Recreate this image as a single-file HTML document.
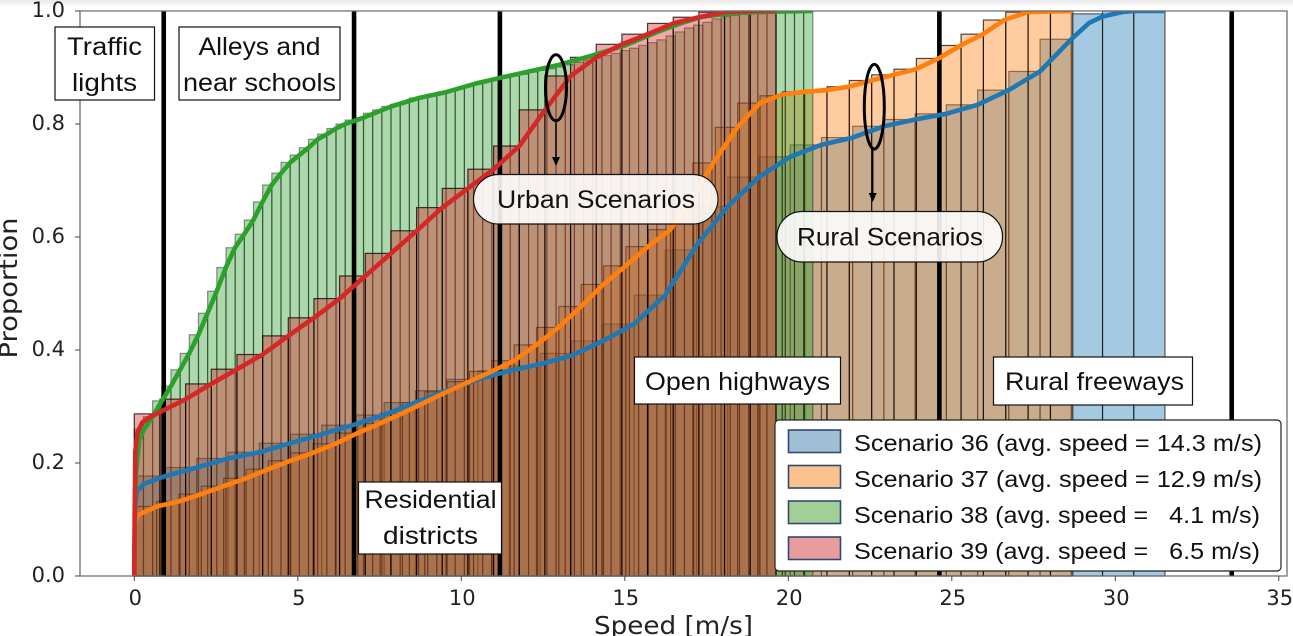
<!DOCTYPE html>
<html lang="en">
<head>
<meta charset="utf-8">
<title>Speed distribution by scenario</title>
<style>
html,body{margin:0;padding:0;background:#fff;width:1293px;height:636px;overflow:hidden}
svg{display:block}
.lab{font-family:"Liberation Sans",sans-serif;font-size:25px;fill:#111}
.leg{font-family:"Liberation Sans",sans-serif;font-size:23px;fill:#111;white-space:pre}
.tick{font-family:"DejaVu Sans",sans-serif;font-size:21px;fill:#222}
.axt{font-family:"DejaVu Sans",sans-serif;font-size:25px;fill:#222}
</style>
</head>
<body>
<svg id="chart" xmlns="http://www.w3.org/2000/svg" width="1293" height="636" viewBox="0 0 1293 636">
  <defs>
    <linearGradient id="topfade" x1="0" y1="0" x2="0" y2="1"><stop offset="0" stop-color="#e8e8e8"/><stop offset="1" stop-color="#ffffff"/></linearGradient>
    <clipPath id="plotclip"><rect x="80" y="11" width="1207" height="565"/></clipPath>
  </defs>
  <rect x="0" y="0" width="1293" height="7" fill="url(#topfade)"/>
  <g id="bars"></g>
  <g id="vlines"></g>
  <g id="curves" clip-path="url(#plotclip)"></g>
  <g id="axes"></g>

  <g>
    <rect x="55" y="27" width="99.5" height="73" fill="#fff" stroke="#111" stroke-width="1.2"/>
    <text class="lab" x="104.5" y="55" text-anchor="middle" textLength="75" lengthAdjust="spacingAndGlyphs">Traffic</text>
    <text class="lab" x="104.5" y="91" text-anchor="middle" textLength="65" lengthAdjust="spacingAndGlyphs">lights</text>
  </g>
  <g>
    <rect x="179" y="27" width="161" height="73" fill="#fff" stroke="#111" stroke-width="1.2"/>
    <text class="lab" x="259.5" y="55" text-anchor="middle" textLength="122" lengthAdjust="spacingAndGlyphs">Alleys and</text>
    <text class="lab" x="259.5" y="91" text-anchor="middle" textLength="153" lengthAdjust="spacingAndGlyphs">near schools</text>
  </g>
  <g>
    <rect x="358.5" y="482" width="143" height="72" fill="#fff" stroke="#111" stroke-width="1.2"/>
    <text class="lab" x="430.5" y="508" text-anchor="middle" textLength="132" lengthAdjust="spacingAndGlyphs">Residential</text>
    <text class="lab" x="430.5" y="544" text-anchor="middle" textLength="95" lengthAdjust="spacingAndGlyphs">districts</text>
  </g>
  <g>
    <rect x="634.5" y="357" width="206" height="47" fill="#fff" stroke="#111" stroke-width="1.2"/>
    <text class="lab" x="737.5" y="390" text-anchor="middle" textLength="185" lengthAdjust="spacingAndGlyphs">Open highways</text>
  </g>
  <g>
    <rect x="993.5" y="357" width="199" height="48" fill="#fff" stroke="#111" stroke-width="1.2"/>
    <text class="lab" x="1094.5" y="390" text-anchor="middle" textLength="179" lengthAdjust="spacingAndGlyphs">Rural freeways</text>
  </g>

  <g>
    <ellipse cx="556" cy="87.7" rx="10.5" ry="33" fill="none" stroke="#000" stroke-width="3"/>
    <line x1="556" y1="121" x2="556" y2="158" stroke="#000" stroke-width="1.5"/>
    <polygon points="552,157 560,157 556,166" fill="#000"/>
  </g>
  <g>
    <ellipse cx="874.3" cy="106.7" rx="10" ry="42.3" fill="none" stroke="#000" stroke-width="3"/>
    <line x1="872.7" y1="149" x2="872.7" y2="194" stroke="#000" stroke-width="1.5"/>
    <polygon points="868.7,193 876.7,193 872.7,202" fill="#000"/>
  </g>
  <g>
    <rect x="473.5" y="174.5" width="244.5" height="49.5" rx="25" ry="25" fill="#fff" fill-opacity="0.89" stroke="#111" stroke-width="1.2"/>
    <text class="lab" x="596" y="208" text-anchor="middle" textLength="198" lengthAdjust="spacingAndGlyphs">Urban Scenarios</text>
  </g>
  <g>
    <rect x="777" y="211.5" width="225.5" height="50.5" rx="25" ry="25" fill="#fff" fill-opacity="0.89" stroke="#111" stroke-width="1.2"/>
    <text class="lab" x="890" y="245.5" text-anchor="middle" textLength="186" lengthAdjust="spacingAndGlyphs">Rural Scenarios</text>
  </g>

  <g>
    <rect x="775" y="420" width="506" height="151" rx="4" ry="4" fill="#fff" stroke="#222" stroke-width="1.2"/>
    <g>
      <rect x="788.5" y="430" width="52" height="22.5" fill="#a0bfd4" stroke="#2f4a70" stroke-width="1.6"/>
      <text class="leg" x="854" y="451" textLength="408" lengthAdjust="spacingAndGlyphs" xml:space="preserve">Scenario 36 (avg. speed = 14.3 m/s)</text>
    </g>
    <g>
      <rect x="788.5" y="465.5" width="52" height="22.5" fill="#fbc28e" stroke="#2f4a70" stroke-width="1.6"/>
      <text class="leg" x="854" y="487" textLength="408" lengthAdjust="spacingAndGlyphs" xml:space="preserve">Scenario 37 (avg. speed = 12.9 m/s)</text>
    </g>
    <g>
      <rect x="788.5" y="501" width="52" height="22.5" fill="#a3ce98" stroke="#2f4a70" stroke-width="1.6"/>
      <text class="leg" x="854" y="523" textLength="406" lengthAdjust="spacingAndGlyphs" xml:space="preserve">Scenario 38 (avg. speed =   4.1 m/s)</text>
    </g>
    <g>
      <rect x="788.5" y="537" width="52" height="22.5" fill="#e89c9c" stroke="#2f4a70" stroke-width="1.6"/>
      <text class="leg" x="854" y="559" textLength="406" lengthAdjust="spacingAndGlyphs" xml:space="preserve">Scenario 39 (avg. speed =   6.5 m/s)</text>
    </g>
  </g>
</svg>
<script>
const xTicks = [0, 5, 10, 15, 20, 25, 30, 35];
const yTicks = [0.0, 0.2, 0.4, 0.6, 0.8, 1.0];
const yTickLabels = ['0.0', '0.2', '0.4', '0.6', '0.8', '1.0'];
const speedBoundaries = [0.9, 6.72, 11.18, 24.62, 33.56];

const maxSpeed36 = 31.52;
const maxSpeed37 = 28.7;
const maxSpeed38 = 20.75;
const maxSpeed39 = 19.62;

const bars36 = [.177,.192,.208,.219,.235,.251,.267,.285,.307,.328,.348,.363,.372,.394,.416,.446,.497,.577,.654,.706,.742,.763,.776,.796,.808,.818,.834,.860,.893,.950,.995,1,1];
const bars37 = [.123,.132,.145,.159,.173,.189,.204,.218,.234,.253,.270,.288,.307,.326,.344,.362,.381,.409,.440,.477,.516,.549,.583,.613,.665,.731,.794,.837,.850,.857,.860,.866,.877,.887,.897,.916,.939,.959,.984,.998,1,1];
const bars38 = [.260,.282,.310,.336,.365,.394,.427,.465,.504,.546,.581,.605,.630,.662,.692,.713,.732,.745,.758,.773,.782,.792,.800,.807,.811,.819,.825,.831,.835,.839,.846,.849,.853,.856,.859,.863,.867,.871,.875,.878,.882,.885,.888,.892,.895,.898,.901,.905,.909,.913,.917,.921,.925,.930,.934,.939,.944,.949,.956,.963,.970,.975,.980,.986,.990,.992,.994,.996,.997,.998,.999,.9995,1,1];
const bars39 = [.287,.313,.340,.366,.392,.425,.457,.491,.531,.571,.611,.652,.686,.720,.761,.825,.885,.918,.941,.959,.978,.989,.998,1,1];

const curve36Speed = [0,.02,.08,.3,.955,1.91,2.865,3.82,4.775,5.73,6.685,7.64,8.595,9.55,10.505,11.46,12.415,13.37,14.325,15.28,16.235,17.19,18.145,19.1,20.055,21.01,21.965,22.92,23.875,24.83,25.785,26.74,27.695,28.65,29.2,29.605,30.2,30.56,31.52];
const curve36Value = [0,.12,.15,.163,.177,.192,.208,.219,.235,.251,.267,.285,.307,.328,.348,.363,.375,.390,.416,.446,.497,.585,.654,.706,.742,.763,.776,.796,.808,.818,.834,.860,.893,.950,.979,.990,.998,1,1];
const curve37Speed = [0,.02,.08,.3,.683,1.366,2.049,2.732,3.415,4.098,4.781,5.464,6.147,6.83,7.513,8.196,8.879,9.562,10.245,10.928,11.611,12.294,12.977,13.66,14.343,15.026,15.709,16.392,17.075,17.758,18.441,19.13,19.8,20.49,21.17,21.85,22.54,23.22,23.9,24.59,25.27,25.95,26.6,27.32,28.7];
const curve37Value = [0,.09,.107,.113,.123,.132,.145,.159,.173,.189,.204,.218,.234,.253,.270,.288,.307,.326,.344,.362,.381,.409,.440,.477,.516,.549,.583,.613,.671,.736,.794,.837,.852,.857,.860,.866,.877,.887,.897,.916,.939,.959,.984,.998,1];
const curve38Speed = [0,.02,.05,.15,.28,.56,.84,1.12,1.4,1.68,1.96,2.24,2.52,2.8,3.08,3.36,3.64,3.92,4.2,4.49,4.77,5.05,5.33,5.61,5.89,6.17,6.45,7,7.85,8.7,9.5,10.4,11.2,12,13,14,15,16,16.8,17.4,18,18.6,19.6,20.75];
const curve38Value = [0,.1,.18,.24,.258,.282,.310,.336,.365,.394,.427,.465,.504,.546,.581,.605,.630,.662,.692,.713,.732,.745,.758,.773,.782,.792,.800,.811,.831,.846,.856,.871,.882,.892,.905,.921,.939,.963,.980,.990,.994,.997,.999,1];
const curve39Speed = [0,.01,.03,.1,.25,.5,.785,1.57,2.355,3.14,3.925,4.71,5.495,6.28,7.065,7.85,8.635,9.42,10.205,10.99,11.775,12.56,13.345,14.13,14.915,15.7,16.485,17.27,18.055,18.84,19.62];
const curve39Value = [0,.1,.22,.255,.272,.282,.290,.313,.340,.366,.392,.425,.457,.491,.531,.571,.611,.652,.686,.720,.761,.825,.885,.918,.941,.959,.978,.989,.998,1,1];

const NS = 'http://www.w3.org/2000/svg';
const xAxis = v => 134.3 + 32.7 * v;
const yAxis = v => 576 - 565 * v;

function drawBars(values, maxSpeed, colour, edgeOpacity) {
  const group = document.getElementById('bars');
  const width = maxSpeed / values.length;
  values.forEach((v, i) => {
    const bar = document.createElementNS(NS, 'rect');
    
    
    bar.setAttribute('x', xAxis(i * width));
    bar.setAttribute('y', yAxis(v));
    bar.setAttribute('width', xAxis((i + 1) * width) - xAxis(i * width));
    bar.setAttribute('height', yAxis(0) - yAxis(v));
    bar.setAttribute('fill', colour);
    bar.setAttribute('fill-opacity', '0.4');
    bar.setAttribute('stroke', '#000');
    bar.setAttribute('stroke-opacity', edgeOpacity);
    bar.setAttribute('stroke-width', '1.2');
    group.appendChild(bar);
  });
}

function drawCurve(speeds, values, colour) {
  const line = document.createElementNS(NS, 'polyline');
  
  
  line.setAttribute('points', speeds.map((s, i) => xAxis(s).toFixed(1) + ',' + yAxis(values[i]).toFixed(1)).join(' '));
  line.setAttribute('fill', 'none');
  line.setAttribute('stroke', colour);
  line.setAttribute('stroke-width', '4.6');
  line.setAttribute('stroke-linejoin', 'round');
  document.getElementById('curves').appendChild(line);
}

drawBars(bars36, maxSpeed36, '#1f77b4', '0.6');
drawBars(bars37, maxSpeed37, '#ff7f0e', '0.7');
drawBars(bars38, maxSpeed38, '#2ca02c', '0.42');
drawBars(bars39, maxSpeed39, '#d62728', '0.75');

speedBoundaries.forEach(s => {
  const rule = document.createElementNS(NS, 'line');
  
  
  rule.setAttribute('x1', xAxis(s));
  rule.setAttribute('x2', xAxis(s));
  rule.setAttribute('y1', yAxis(1));
  rule.setAttribute('y2', yAxis(0));
  rule.setAttribute('stroke', '#000');
  rule.setAttribute('stroke-width', '4.6');
  document.getElementById('vlines').appendChild(rule);
});

drawCurve(curve36Speed, curve36Value, '#1f77b4');
drawCurve(curve37Speed, curve37Value, '#ff7f0e');
drawCurve(curve38Speed, curve38Value, '#2ca02c');
drawCurve(curve39Speed, curve39Value, '#d62728');

const axes = document.getElementById('axes');

const frame = document.createElementNS(NS, 'path');


frame.setAttribute('d', 'M80 576V11H1287V576Z');
frame.setAttribute('fill', 'none');
frame.setAttribute('stroke', '#6e6e6e');
frame.setAttribute('stroke-width', '1.3');
axes.appendChild(frame);

xTicks.forEach(t => {
  const mark = document.createElementNS(NS, 'line');
  
  
  mark.setAttribute('x1', xAxis(t));
  mark.setAttribute('x2', xAxis(t));
  mark.setAttribute('y1', 576);
  mark.setAttribute('y2', 581);
  mark.setAttribute('stroke', '#444');
  mark.setAttribute('stroke-width', '1');
  axes.appendChild(mark);
  const label = document.createElementNS(NS, 'text');
  
  
  label.setAttribute('class', 'tick');
  label.setAttribute('x', xAxis(t) + 1);
  label.setAttribute('y', 605);
  label.setAttribute('text-anchor', 'middle');
  label.textContent = String(t);
  axes.appendChild(label);
});

yTicks.forEach((t, i) => {
  const mark = document.createElementNS(NS, 'line');
  
  
  mark.setAttribute('x1', 75);
  mark.setAttribute('x2', 80);
  mark.setAttribute('y1', yAxis(t));
  mark.setAttribute('y2', yAxis(t));
  mark.setAttribute('stroke', '#444');
  mark.setAttribute('stroke-width', '1');
  axes.appendChild(mark);
  const label = document.createElementNS(NS, 'text');
  
  
  label.setAttribute('class', 'tick');
  label.setAttribute('x', 65);
  label.setAttribute('y', yAxis(t) + 6);
  label.setAttribute('text-anchor', 'end');
  label.textContent = yTickLabels[i];
  axes.appendChild(label);
});

const xTitle = document.createElementNS(NS, 'text');


xTitle.setAttribute('class', 'axt');
xTitle.setAttribute('x', 673.5);
xTitle.setAttribute('y', 634);
xTitle.setAttribute('text-anchor', 'middle');
xTitle.setAttribute('textLength', 159);
xTitle.setAttribute('lengthAdjust', 'spacingAndGlyphs');
xTitle.textContent = 'Speed [m/s]';
axes.appendChild(xTitle);

const yTitle = document.createElementNS(NS, 'text');


yTitle.setAttribute('class', 'axt');
yTitle.setAttribute('transform', 'translate(17,288) rotate(-90)');
yTitle.setAttribute('text-anchor', 'middle');
yTitle.setAttribute('textLength', 141);
yTitle.setAttribute('lengthAdjust', 'spacingAndGlyphs');
yTitle.textContent = 'Proportion';
axes.appendChild(yTitle);
</script>
</body>
</html>
